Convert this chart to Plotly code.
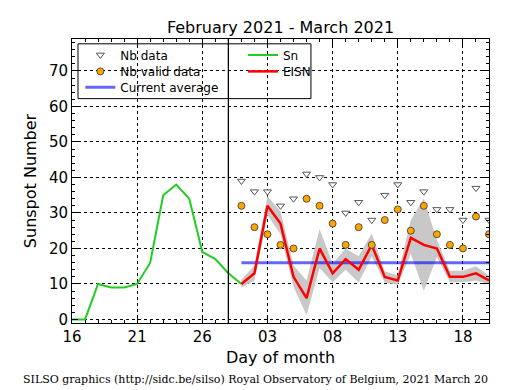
import plotly.graph_objects as go
import pandas as pd

# ---- data ----
sn_dates = pd.date_range("2021-02-16", "2021-03-01", freq="D")
sn_values = [0, 0, 10, 9, 9, 10, 16, 35, 38, 34, 19, 17, 13, 10]

cur_dates = pd.date_range("2021-03-01", "2021-03-20", freq="D")
eisn_values = [10, 13, 32, 27, 12, 6, 20, 13, 17, 14, 21, 12, 11, 23, 21, 20, 12, 12, 13, 11]
eisn_upper = [11.2, 15.2, 34.8, 30.4, 15.2, 11, 25.5, 15.7, 20, 17.8, 24.3, 13.6, 12.4, 28, 34, 22.4, 13.7, 13.7, 15, 12.3]
eisn_lower = [9, 11, 29.4, 24, 9.2, 1.2, 14.5, 10.5, 14, 10.4, 17.7, 10.4, 9.8, 18.5, 8, 17.6, 10.5, 10.5, 11, 10]
nb_data = [39, 36, 36, 32, 34, 41, 40, 38, 30, 33, 28, 35, 38, 33, 36, 31, 31, 28, 37, 28]
nb_valid = [32, 26, 24, 21, 20, 34, 32, 27, 21, 26, 21, 28, 31, 25, 32, 24, 21, 20, 29, 24]
current_average = [16] * len(cur_dates)
month_separator = "2021-02-28"

title = "February 2021 - March 2021"
footer = "SILSO graphics (http://sidc.be/silso) Royal Observatory of Belgium, 2021 March 20"

FONT = "DejaVu Sans"
X = list(cur_dates)

fig = go.Figure()

# error band
fig.add_trace(go.Scatter(x=X, y=eisn_upper, mode="lines",
                         line=dict(width=0, color="rgba(0,0,0,0)"),
                         showlegend=False, hoverinfo="skip"))
fig.add_trace(go.Scatter(x=X, y=eisn_lower, mode="lines",
                         line=dict(width=0, color="rgba(0,0,0,0)"),
                         fill="tonexty", fillcolor="#c8c8c8",
                         showlegend=False, hoverinfo="skip"))

fig.add_trace(go.Scatter(x=X, y=current_average, mode="lines", name="Current average",
                         line=dict(color="rgba(0,0,255,0.6)", width=3), legend="legend3"))
fig.add_trace(go.Scatter(x=list(sn_dates), y=sn_values, mode="lines", name="Sn",
                         line=dict(color="#22cc22", width=2), legend="legend4"))
fig.add_trace(go.Scatter(x=X, y=eisn_values, mode="lines", name="EISN",
                         line=dict(color="#ff0000", width=2.5), legend="legend5"))
fig.add_trace(go.Scatter(x=X, y=nb_data, mode="markers", name="Nb data",
                         marker=dict(symbol="triangle-down", size=7, color="white",
                                     line=dict(color="#555555", width=1)), legend="legend"))
fig.add_trace(go.Scatter(x=X, y=nb_valid, mode="markers", name="Nb valid data",
                         marker=dict(symbol="circle", size=7, color="#ffa500",
                                     line=dict(color="#333333", width=0.8)), legend="legend2"))

fig.add_vline(x=pd.Timestamp(month_separator).timestamp() * 1000, line=dict(color="black", width=1.3))

axis_common = dict(showline=True, linecolor="black", linewidth=1, mirror="allticks",
                   ticks="inside", tickcolor="black", ticklen=6,
                   showgrid=True, gridcolor="black", griddash="dot", gridwidth=0.8,
                   zeroline=False, tickfont=dict(family=FONT, size=15, color="black"))

fig.update_xaxes(type="date", range=["2021-02-16", "2021-03-20"],
                 tick0="2021-02-16", dtick=5 * 86400000, tickformat="%d",
                 minor=dict(dtick=86400000, ticks="inside", ticklen=3, tickcolor="black", showgrid=False),
                 title=dict(text="Day of month", font=dict(family=FONT, size=16, color="black"), standoff=6),
                 **axis_common)
fig.update_yaxes(range=[-1, 79], tick0=0, dtick=10,
                 minor=dict(dtick=2, ticks="inside", ticklen=3, tickcolor="black", showgrid=False),
                 title=dict(text="Sunspot Number", font=dict(family=FONT, size=16, color="black"), standoff=8),
                 **axis_common)

fig.add_shape(type="rect", xref="paper", yref="paper", x0=0.0144, x1=0.573, y0=0.79, y1=0.983,
              line=dict(color="black", width=1), fillcolor="white", layer="between")

legend_font = dict(family=FONT, size=12, color="black")


def leg(x, y):
    return dict(x=x, y=y, xanchor="left", yanchor="top", bgcolor="rgba(0,0,0,0)",
                borderwidth=0, font=legend_font, tracegroupgap=0)


row_y = [0.995, 0.937, 0.881]
fig.update_layout(
    width=515, height=390,
    margin=dict(l=72, r=26, t=39, b=67),
    paper_bgcolor="white", plot_bgcolor="white",
    title=dict(text=title, x=0.5, xref="paper", y=1 - 27 / 390, yref="container",
               yanchor="middle", font=dict(family=FONT, size=16, color="black")),
    legend=leg(0.02, row_y[0]),
    legend2=leg(0.02, row_y[1]),
    legend3=leg(0.02, row_y[2]),
    legend4=leg(0.41, row_y[0]),
    legend5=leg(0.41, row_y[1]),
    showlegend=True,
)

fig.add_annotation(text=footer, xref="paper", yref="paper", x=0.439, y=-0.2,
                   xanchor="center", yanchor="middle", showarrow=False,
                   font=dict(family="DejaVu Serif", size=11, color="black"))

fig.write_html("out.html", config={"displayModeBar": False},
               post_script="document.body.style.margin='0';document.body.style.padding='0';")
